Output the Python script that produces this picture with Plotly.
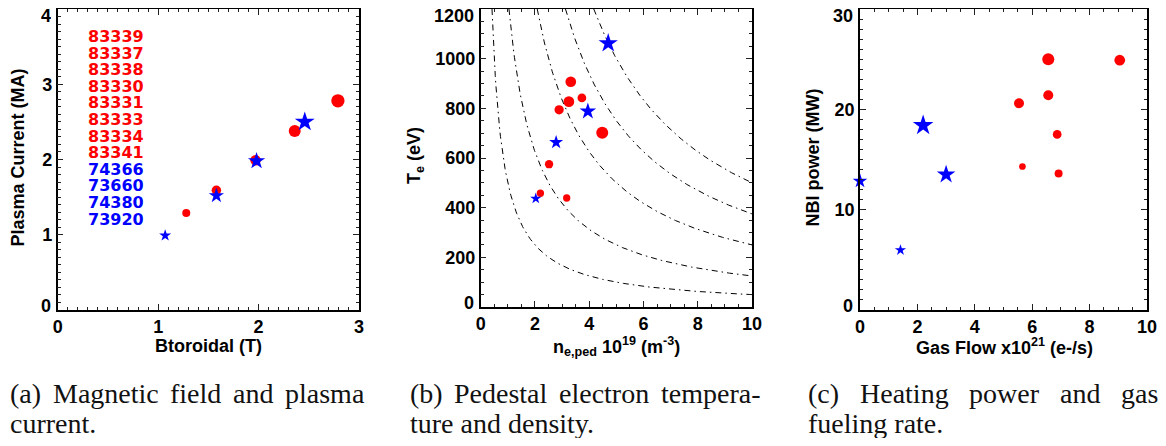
import numpy as np
import plotly.graph_objects as go

# ---------------- data ----------------
# Panel (a): toroidal field (T) vs plasma current (MA)
A_RED_BT = [1.28, 1.58, 1.97, 2.36, 2.79]
A_RED_IP = [1.29, 1.59, 1.99, 2.38, 2.78]
A_BLUE_BT = [1.07, 1.58, 1.98, 2.46]
A_BLUE_IP = [0.99, 1.52, 1.98, 2.50]

RED_SHOTS = ["83339", "83337", "83338", "83330", "83331", "83333", "83334", "83341"]
BLUE_SHOTS = ["74366", "73660", "74380", "73920"]

# Panel (b): pedestal density (1e19 m^-3) vs pedestal Te (eV)
B_RED_NE = [3.32, 3.73, 3.25, 2.89, 4.48, 2.52, 2.20, 3.17]
B_RED_TE = [907, 842, 827, 794, 702, 575, 458, 439]
B_BLUE_NE = [4.70, 3.95, 2.78, 2.03]
B_BLUE_TE = [1062, 788, 663, 437]
ISOBAR_NT = [500, 1250, 2500, 3750, 5000]   # constant n*T contours

# Panel (c): gas flow (1e21 e/s) vs NBI power (MW)
C_RED_GAS = [6.56, 9.05, 6.56, 5.54, 6.87, 5.66, 6.92]
C_RED_NBI = [25.0, 24.9, 21.4, 20.6, 17.5, 14.3, 13.6]
C_BLUE_GAS = [2.20, 3.00, 0.0, 1.41]
C_BLUE_NBI = [18.4, 13.5, 12.85, 5.97]

# axis ticks
A_XTICKS = [0, 1, 2, 3]
A_YTICKS = [0, 1, 2, 3, 4]
B_XTICKS = [0, 2, 4, 6, 8, 10]
B_YTICKS = [0, 200, 400, 600, 800, 1000, 1200]
C_XTICKS = [0, 2, 4, 6, 8, 10]
C_YTICKS = [0, 10, 20, 30]

# ---------------- styles ----------------
A_RED_PX = [8, 9.5, 10.5, 12, 13.3]
A_BLUE_PX = [9, 11.5, 13, 15]
B_RED_PX = [10.7, 8.7, 10.7, 9.3, 12, 8.3, 7.3, 7.3]
B_BLUE_PX = [14.5, 12.5, 10.5, 8.5]
C_RED_PX = [12, 10.7, 10, 10, 8.7, 6.7, 8]
C_BLUE_PX = [15.5, 14, 11, 8.5]

RED = "#ff0000"
BLUE = "#0000ff"
OFF = 8                      # page body margin
FW, FH = 1166 - 2 * OFF, 446 - 2 * OFF
TOP = 9                      # top edge of the plot frames (page px)

fig = go.Figure()


def red(x, y, s, xa, ya):
    fig.add_trace(go.Scatter(x=x, y=y, mode="markers", xaxis=xa, yaxis=ya,
                             marker=dict(color=RED, size=s, symbol="circle", opacity=1,
                                         line=dict(width=0)),
                             cliponaxis=False, showlegend=False))


def blue(x, y, s, xa, ya):
    fig.add_trace(go.Scatter(x=x, y=y, mode="markers", xaxis=xa, yaxis=ya,
                             marker=dict(color=BLUE, size=s, symbol="star", opacity=1,
                                         line=dict(width=0)),
                             cliponaxis=False, showlegend=False))


# isobars in panel (b)
for p in ISOBAR_NT:
    n = np.linspace(p / 1200.0, 10, 400)
    fig.add_trace(go.Scatter(x=n, y=p / n, mode="lines", xaxis="x2", yaxis="y2",
                             line=dict(color="black", width=1, dash="6px,4px,1.5px,4px"),
                             showlegend=False, hoverinfo="skip"))

red(A_RED_BT, A_RED_IP, A_RED_PX, "x", "y")
blue(A_BLUE_BT, A_BLUE_IP, A_BLUE_PX, "x", "y")
red(B_RED_NE, B_RED_TE, B_RED_PX, "x2", "y2")
blue(B_BLUE_NE, B_BLUE_TE, B_BLUE_PX, "x2", "y2")
red(C_RED_GAS, C_RED_NBI, C_RED_PX, "x3", "y3")
blue(C_BLUE_GAS, C_BLUE_NBI, C_BLUE_PX, "x3", "y3")

TICKFONT = dict(family="Liberation Sans", size=18, color="black", weight="bold")


def axis(domain, ticks, mdtick, anchor, inner_only=False):
    rng = [ticks[0], ticks[-1]]
    vals = ticks[1:-1] if inner_only else ticks
    return dict(domain=domain, range=rng, tickmode="array", tickvals=vals,
                ticktext=[str(v) for v in vals], anchor=anchor,
                automargin=False, ticklabeloverflow="allow",
                showline=True, linecolor="black", linewidth=1.5, mirror="allticks",
                ticks="inside", ticklen=6, tickwidth=1.3, tickcolor="#222",
                showgrid=False, zeroline=False, tickfont=TICKFONT, fixedrange=True,
                minor=dict(dtick=mdtick, tick0=0, tickmode="linear", ticks="inside",
                           ticklen=3.5, tickwidth=1, tickcolor="#222", showgrid=False))


def py(px):
    return min(1.0, max(0.0, 1 - (px - OFF) / FH))


def pxx(px):
    return min(1.0, max(0.0, (px - OFF) / FW))


fig.update_layout(
    width=FW, height=FH, autosize=False,
    margin=dict(l=0, r=0, t=0, b=0, pad=0, autoexpand=False),
    paper_bgcolor="white", plot_bgcolor="white",
    xaxis=axis([pxx(57.7), pxx(359)], A_XTICKS, 0.1, "y"),
    yaxis=axis([py(310), py(TOP)], A_YTICKS, 0.1, "x", inner_only=True),
    xaxis2=axis([pxx(480.7), pxx(752)], B_XTICKS, 0.5, "y2"),
    yaxis2=axis([py(307), py(TOP)], B_YTICKS, 50, "x2", inner_only=True),
    xaxis3=axis([pxx(860), pxx(1147)], C_XTICKS, 0.5, "y3"),
    yaxis3=axis([py(310), py(TOP)], C_YTICKS, 1, "x3", inner_only=True),
)

ann = []
# end labels of the y axes, nudged inward as in the original
for xr, yr, ticks in [("x", "y", A_YTICKS), ("x2", "y2", B_YTICKS), ("x3", "y3", C_YTICKS)]:
    for v, ys in [(ticks[0], 5), (ticks[-1], -6)]:
        ann.append(dict(x=0, y=v, xref=xr, yref=yr, text=str(v), showarrow=False,
                        xanchor="right", yanchor="middle", xshift=-6, yshift=ys,
                        height=13, borderpad=0, font=TICKFONT))

# shot list in panel (a)
for i, s in enumerate(RED_SHOTS + BLUE_SHOTS):
    col = RED if i < len(RED_SHOTS) else BLUE
    ann.append(dict(x=0.29, y=3.64 - i * 0.2205, xref="x", yref="y", text=s,
                    showarrow=False, xanchor="left", yanchor="middle", height=14,
                    borderpad=0,
                    font=dict(family="DejaVu Sans", size=16, color=col, weight="bold")))

TF = dict(family="Liberation Sans", size=18, color="black", weight="bold")
# axis titles
for xc, txt in [(208, "Btoroidal (T)"),
                (616, "n<sub>e,ped</sub> 10<sup>19</sup> (m<sup>-3</sup>)"),
                (1004, "Gas Flow x10<sup>21</sup> (e-/s)")]:
    ann.append(dict(x=pxx(xc), y=py(346), xref="paper", yref="paper", text=txt,
                    showarrow=False, xanchor="center", yanchor="middle", font=TF))
for xc, yc, txt in [(17, 157.5, "Plasma Current (MA)"),
                    (415, 156, "T<sub>e</sub> (eV)"),
                    (812, 157.5, "NBI power (MW)")]:
    ann.append(dict(x=pxx(xc), y=py(yc), xref="paper", yref="paper", text=txt,
                    textangle=-90, showarrow=False, xanchor="center", yanchor="middle",
                    font=TF))

# captions: first lines are justified (word by word), second lines are natural
CF = dict(family="Liberation Serif", size=28, color="#111")
cap_lines = [
    (393, [(8, "(a)"), (50.6, "Magnetic"), (168, "field"), (230.7, "and"), (282.6, "plasma")]),
    (393, [(408, "(b)"), (452, "Pedestal"), (557, "electron"), (658.6, "tempera-")]),
    (393, [(806, "(c)"), (858, "Heating"), (967, "power"), (1058, "and"), (1119, "gas")]),
    (423, [(8, "current.")]),
    (423, [(408, "ture and density.")]),
    (423, [(806, "fueling rate.")]),
]
for yc, words in cap_lines:
    for xl, w in words:
        ann.append(dict(x=pxx(xl), y=py(yc), xref="paper", yref="paper", text=w,
                        showarrow=False, xanchor="left", yanchor="middle", font=CF))

fig.update_layout(annotations=ann)
fig.write_html("out.html")
